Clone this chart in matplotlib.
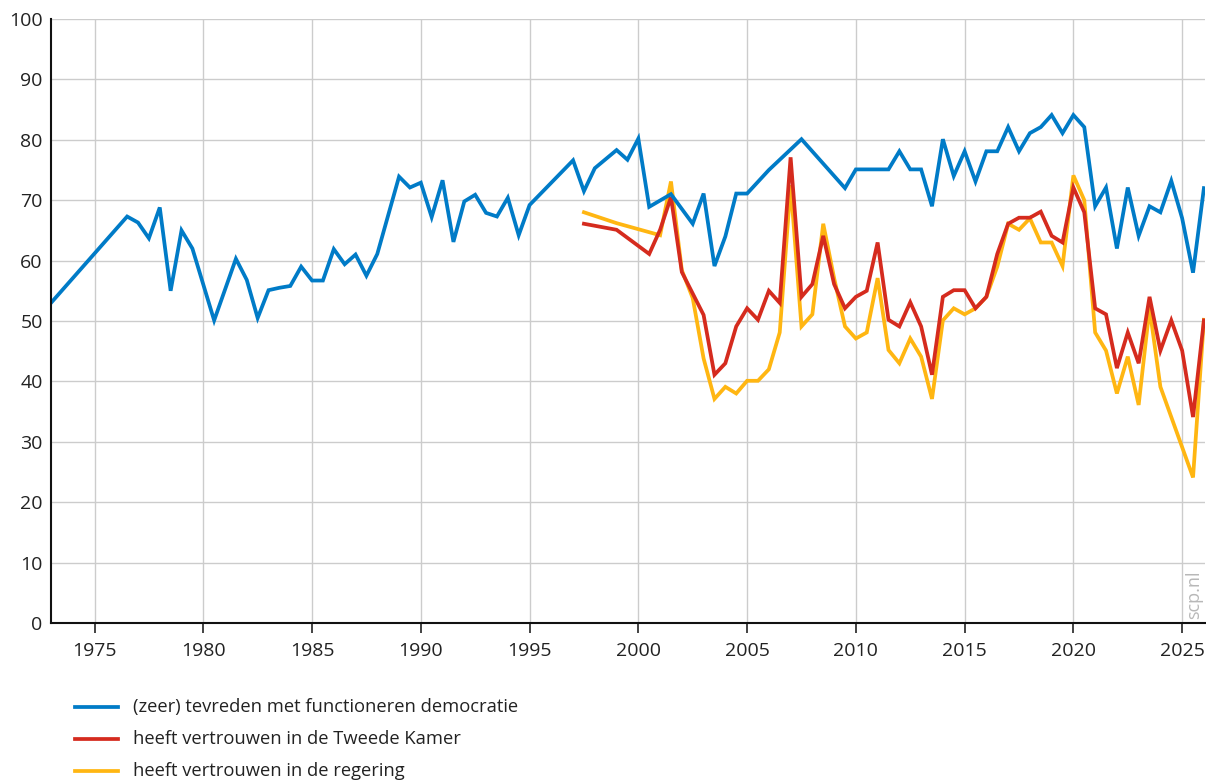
import matplotlib
matplotlib.use("Agg")
import matplotlib.pyplot as plt
from matplotlib.lines import Line2D

plt.rcParams['font.family'] = ['Open Sans', 'DejaVu Sans']

# ---- data ----
demo_years = [1973.0, 1976.5, 1977.0, 1977.5, 1978.0, 1978.5, 1979.0, 1979.5, 1980.5, 1981.5,
              1982.0, 1982.5, 1983.0, 1983.5, 1984.0, 1984.5, 1985.0, 1985.5, 1986.0, 1986.5,
              1987.0, 1987.5, 1988.0, 1989.0, 1989.5, 1990.0, 1990.5, 1991.0, 1991.5, 1992.0,
              1992.5, 1993.0, 1993.5, 1994.0, 1994.5, 1995.0, 1997.0, 1997.5, 1998.0, 1999.0,
              1999.5, 2000.0, 2000.5, 2001.5, 2002.5, 2003.0, 2003.5, 2004.0, 2004.5, 2005.0,
              2006.0, 2007.5, 2009.5, 2010.0, 2011.5, 2012.0, 2012.5, 2013.0, 2013.5, 2014.0,
              2014.5, 2015.0, 2015.5, 2016.0, 2016.5, 2017.0, 2017.5, 2018.0, 2018.5, 2019.0,
              2019.5, 2020.0, 2020.5, 2021.0, 2021.5, 2022.0, 2022.5, 2023.0, 2023.5, 2024.0,
              2024.5, 2025.0, 2025.5, 2026.0]
demo_vals = [53.0, 67.3, 66.3, 63.7, 68.8, 55.0, 65.0, 62.0, 50.1, 60.3,
             56.8, 50.5, 55.1, 55.5, 55.8, 59.0, 56.7, 56.7, 61.9, 59.4,
             61.0, 57.5, 61.1, 73.9, 72.1, 72.9, 67.2, 73.3, 63.1, 69.8,
             70.9, 67.9, 67.3, 70.4, 64.2, 69.2, 76.6, 71.5, 75.3, 78.3,
             76.7, 80.2, 68.9, 71.0, 66.1, 71.1, 59.1, 64.0, 71.1, 71.1,
             75.0, 80.1, 72.0, 75.1, 75.1, 78.1, 75.1, 75.1, 69.0, 80.1,
             74.0, 78.1, 73.1, 78.1, 78.1, 82.1, 78.1, 81.1, 82.1, 84.1,
             81.1, 84.1, 82.1, 69.0, 72.1, 62.0, 72.1, 64.1, 69.0, 68.0,
             73.2, 67.0, 58.0, 72.0]

tk_years = [1997.5, 1999.0, 2000.5, 2001.0, 2001.5, 2002.0, 2003.0, 2003.5, 2004.0, 2004.5,
            2005.0, 2005.5, 2006.0, 2006.5, 2007.0, 2007.5, 2008.0, 2008.5, 2009.0, 2009.5,
            2010.0, 2010.5, 2011.0, 2011.5, 2012.0, 2012.5, 2013.0, 2013.5, 2014.0, 2014.5,
            2015.0, 2015.5, 2016.0, 2016.5, 2017.0, 2017.5, 2018.0, 2018.5, 2019.0, 2019.5,
            2020.0, 2020.5, 2021.0, 2021.5, 2022.0, 2022.5, 2023.0, 2023.5, 2024.0, 2024.5,
            2025.0, 2025.5, 2026.0]
tk_vals = [66.1, 65.1, 61.1, 65.1, 70.5, 58.1, 51.0, 41.1, 43.0, 49.1,
           52.1, 50.2, 55.0, 53.0, 77.1, 54.0, 56.1, 64.1, 56.1, 52.1,
           54.0, 55.0, 63.0, 50.2, 49.1, 53.1, 49.1, 41.1, 54.0, 55.1,
           55.1, 52.1, 54.0, 61.1, 66.1, 67.1, 67.1, 68.1, 64.1, 63.0,
           72.1, 68.0, 52.1, 51.1, 42.2, 48.1, 43.0, 54.0, 45.1, 50.1,
           45.1, 34.1, 50.1]

reg_years = [1997.5, 1999.0, 2001.0, 2001.5, 2002.0, 2002.5, 2003.0, 2003.5, 2004.0, 2004.5,
             2005.0, 2005.5, 2006.0, 2006.5, 2007.0, 2007.5, 2008.0, 2008.5, 2009.0, 2009.5,
             2010.0, 2010.5, 2011.0, 2011.5, 2012.0, 2012.5, 2013.0, 2013.5, 2014.0, 2014.5,
             2015.0, 2015.5, 2016.0, 2016.5, 2017.0, 2017.5, 2018.0, 2018.5, 2019.0, 2019.5,
             2020.0, 2020.5, 2021.0, 2021.5, 2022.0, 2022.5, 2023.0, 2023.5, 2024.0, 2025.5,
             2026.0]
reg_vals = [68.0, 66.2, 64.2, 73.1, 58.4, 53.8, 43.8, 37.1, 39.1, 38.0,
            40.1, 40.1, 42.0, 48.1, 72.5, 49.1, 51.1, 66.1, 57.1, 49.1,
            47.1, 48.1, 57.1, 45.2, 43.0, 47.1, 44.1, 37.1, 50.1, 52.1,
            51.1, 52.1, 54.0, 59.0, 66.1, 65.1, 67.0, 63.0, 63.0, 59.1,
            74.1, 70.0, 48.1, 45.1, 38.0, 44.1, 36.1, 52.1, 39.1, 24.1,
            50.2]

series_labels = ["(zeer) tevreden met functioneren democratie",
                 "heeft vertrouwen in de Tweede Kamer",
                 "heeft vertrouwen in de regering"]
x_ticks = [1975, 1980, 1985, 1990, 1995, 2000, 2005, 2010, 2015, 2020, 2025]
y_ticks = [0, 10, 20, 30, 40, 50, 60, 70, 80, 90, 100]

# ---- style ----
BLUE = "#007BC7"
RED = "#D52B1E"
YELLOW = "#FFB612"
colors = [BLUE, RED, YELLOW]
LW = 2.7

fig = plt.figure(figsize=(12.06, 7.8), dpi=100)
ax = fig.add_axes([51/1206, 1 - 623/780, (1205 - 51)/1206, (623 - 19)/780])

ax.plot(reg_years, reg_vals, color=YELLOW, lw=LW, solid_joinstyle='miter', zorder=3)
ax.plot(tk_years, tk_vals, color=RED, lw=LW, solid_joinstyle='miter', zorder=4)
ax.plot(demo_years, demo_vals, color=BLUE, lw=LW, solid_joinstyle='miter', zorder=5)

ax.set_xlim(1973.0, 2026.05)
ax.set_ylim(0, 100)
ax.set_xticks(x_ticks)
ax.set_yticks(y_ticks)
ax.set_xticklabels([str(t) for t in x_ticks], fontsize=14, color="#222222")
ax.set_yticklabels([str(t) for t in y_ticks], fontsize=14, color="#222222")
ax.tick_params(axis='x', length=7, width=1.2, color="#222222", pad=7)
ax.tick_params(axis='y', length=0, pad=6)
ax.grid(True, color="#cccccc", lw=1.0, zorder=0)
ax.set_axisbelow(True)
for s in ['top', 'right']:
    ax.spines[s].set_visible(False)
for s in ['left', 'bottom']:
    ax.spines[s].set_color("#111111")
    ax.spines[s].set_linewidth(1.5)
    ax.spines[s].set_zorder(6)

# watermark
fig.text(1194/1206, 1 - 595/780, "scp.nl", rotation=90, ha='center', va='center',
         fontsize=13, color="#b8b8b8")

# legend (manual)
legend_y = [707, 739, 771]
for lab, col, yy in zip(series_labels, colors, legend_y):
    yf = 1 - yy/780
    fig.add_artist(Line2D([75/1206, 118/1206], [yf, yf], color=col, lw=LW,
                          transform=fig.transFigure))
    fig.text(133/1206, yf, lab, ha='left', va='center', fontsize=13.2, color="#222222")

fig.savefig("out.png", dpi=100)
